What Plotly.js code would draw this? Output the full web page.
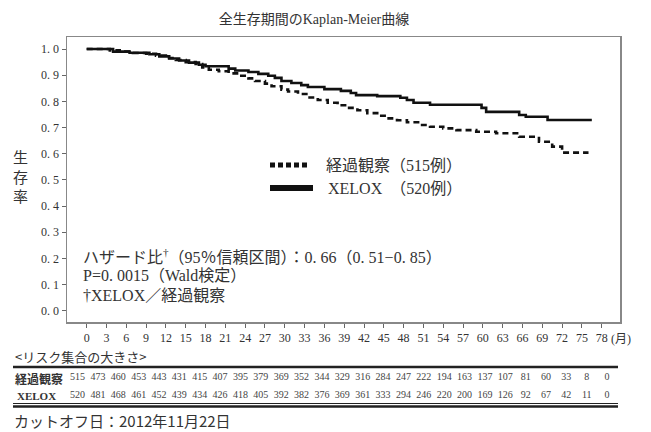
<!DOCTYPE html>
<html>
<head>
<meta charset="utf-8">
<script src="https://cdn.plot.ly/plotly-3.0.1.min.js"></script>
<style>html,body{margin:0;padding:0;background:#fff;}#chart{width:651px;height:432px;}</style>
</head>
<body>
<div id="chart"></div>
<script>
// ---- data ----
var obsName = '経過観察';
var xeloxName = 'XELOX';
var obsTime = [0,3.5,5,7,9,10.5,12,13.5,15,16.5,17.5,18.5,20,21.5,23,24.5,25.5,27,28,29.5,30.5,32,33.5,35,36.5,38,39.5,41,42.5,44,45.5,47,48.5,50.5,52,54,56,59,62,65.5,68.5,70.5,72,76];
var obsSurv = [1.0,0.995,0.99,0.985,0.982,0.975,0.966,0.958,0.95,0.943,0.93,0.921,0.915,0.907,0.898,0.888,0.878,0.868,0.858,0.845,0.838,0.828,0.815,0.805,0.795,0.785,0.775,0.766,0.755,0.745,0.735,0.728,0.72,0.71,0.703,0.697,0.69,0.684,0.678,0.665,0.646,0.627,0.604,0.604];
var xeloxTime = [0,4,6.5,9.5,11,12.5,14,15.5,17,18,21.5,22.5,24.5,26,27.5,28.5,29.5,31,32.5,33.5,36,38.5,40,40.8,44,47.5,48.5,49.5,52,59.8,60.5,65.5,66.5,69.8,76.5];
var xeloxSurv = [1.0,0.99,0.986,0.98,0.972,0.964,0.956,0.948,0.94,0.934,0.925,0.918,0.912,0.905,0.898,0.89,0.878,0.87,0.862,0.855,0.847,0.84,0.832,0.824,0.82,0.814,0.805,0.795,0.787,0.775,0.76,0.748,0.741,0.729,0.729];
var riskMonths = [0,3,6,9,12,15,18,21,24,27,30,33,36,39,42,45,48,51,54,57,60,63,66,69,72,75,78];
var obsRisk = [515,473,460,453,443,431,415,407,395,379,369,352,344,329,316,284,247,222,194,163,137,107,81,60,33,8,0];
var xeloxRisk = [520,481,468,461,452,439,434,426,418,405,392,382,376,369,361,333,294,246,220,200,169,126,92,67,42,11,0];
var yTickVals = [0,0.1,0.2,0.3,0.4,0.5,0.6,0.7,0.8,0.9,1.0];
var yTickText = ['0. 0','0. 1','0. 2','0. 3','0. 4','0. 5','0. 6','0. 7','0. 8','0. 9','1. 0'];
var obsN = 515, xeloxN = 520;

// ---- styling ----
var SERIF = 'Liberation Serif, "Noto Sans CJK JP", serif';
var SANS = '"Noto Sans CJK JP", sans-serif';
var TXT = '#333';
var H = 393;
function py(Y){ return (430 - Y) / H; }
function px(X){ return (X - 67) / 553; }

var traces = [
  {x: obsTime, y: obsSurv, type: 'scatter', mode: 'lines', line: {shape: 'hv', color: '#111', width: 2.6, dash: '6px,4px'}, hoverinfo: 'skip', showlegend: false},
  {x: xeloxTime, y: xeloxSurv, type: 'scatter', mode: 'lines', line: {shape: 'hv', color: '#111', width: 2.6}, hoverinfo: 'skip', showlegend: false},
  {x: riskMonths, y: riskMonths.map(function(){return obsName;}), text: obsRisk.map(String), type: 'scatter', mode: 'text', xaxis: 'x2', yaxis: 'y2', textfont: {family: SERIF, size: 10, color: '#444'}, cliponaxis: false, showlegend: false, hoverinfo: 'skip'},
  {x: riskMonths, y: riskMonths.map(function(){return xeloxName;}), text: xeloxRisk.map(String), type: 'scatter', mode: 'text', xaxis: 'x2', yaxis: 'y2', textfont: {family: SERIF, size: 10, color: '#444'}, cliponaxis: false, showlegend: false, hoverinfo: 'skip'}
];

var layout = {
  width: 651, height: 432,
  margin: {l: 67, r: 31, t: 37, b: 2},
  paper_bgcolor: '#fff', plot_bgcolor: '#fff',
  showlegend: false,
  title: {text: '全生存期間のKaplan-Meier曲線', x: 314/651, y: 1 - 19/432, xanchor: 'center', yanchor: 'middle', font: {family: SERIF, size: 14, color: TXT}},
  xaxis: {range: [-2.98, 80.77], tick0: 0, dtick: 3, ticks: 'outside', ticklen: 4, tickcolor: '#666', tickwidth: 1,
          showline: true, mirror: true, linecolor: '#888', linewidth: 1.5, showgrid: false, zeroline: false,
          tickfont: {family: SERIF, size: 12, color: TXT}, anchor: 'y', domain: [0, 1]},
  yaxis: {range: [-0.043, 1.046], tickmode: 'array', tickvals: yTickVals, ticktext: yTickText, ticks: 'outside', ticklen: 4, tickcolor: '#666',
          showline: true, mirror: true, linecolor: '#888', linewidth: 1.5, showgrid: false, zeroline: false,
          tickfont: {family: SERIF, size: 12, color: TXT}, domain: [py(322), 1]},
  xaxis2: {range: [-1.55, 79.9], visible: false, anchor: 'y2', domain: [0, 1]},
  yaxis2: {type: 'category', categoryarray: [xeloxName, obsName], range: [-1.889, 2.478], visible: false, domain: [0, 0.2], anchor: 'x2'},
  shapes: [
    {type: 'line', xref: 'paper', yref: 'paper', x0: px(270), x1: px(307), y0: py(165), y1: py(165), line: {color: '#111', width: 5, dash: '5px,3px'}},
    {type: 'line', xref: 'paper', yref: 'paper', x0: px(270), x1: px(313), y0: py(188), y1: py(188), line: {color: '#111', width: 6}},
    {type: 'line', xref: 'paper', yref: 'paper', x0: px(13), x1: px(618), y0: py(367), y1: py(367), line: {color: '#222', width: 2.5}},
    {type: 'line', xref: 'paper', yref: 'paper', x0: px(13), x1: px(618), y0: py(403.5), y1: py(403.5), line: {color: '#222', width: 1}},
    {type: 'line', xref: 'paper', yref: 'paper', x0: px(13), x1: px(618), y0: py(406.5), y1: py(406.5), line: {color: '#222', width: 2.5}}
  ],
  annotations: [
    {text: '生<br>存<br>率', xref: 'paper', yref: 'paper', x: px(20), y: py(176), xanchor: 'center', yanchor: 'middle', showarrow: false, font: {family: SANS, size: 15, color: TXT}},
    {text: '(月)', xref: 'paper', yref: 'paper', x: px(609), y: py(339), xanchor: 'left', yanchor: 'middle', showarrow: false, font: {family: SERIF, size: 12, color: TXT}},
    {text: obsName + '（' + obsN + '例）', xref: 'paper', yref: 'paper', x: px(324), y: py(165), xanchor: 'left', yanchor: 'middle', showarrow: false, font: {family: SERIF, size: 16, color: TXT}},
    {text: xeloxName + '　（' + xeloxN + '例）', xref: 'paper', yref: 'paper', x: px(326), y: py(188), xanchor: 'left', yanchor: 'middle', showarrow: false, font: {family: SERIF, size: 16, color: TXT}},
    {text: 'ハザード比<sup>†</sup>（95％信頼区間）：0. 66（0. 51−0. 85）', xref: 'paper', yref: 'paper', x: px(81), y: py(256), xanchor: 'left', yanchor: 'middle', showarrow: false, font: {family: SERIF, size: 16, color: TXT}},
    {text: 'P=0. 0015（Wald検定）', xref: 'paper', yref: 'paper', x: px(81), y: py(275), xanchor: 'left', yanchor: 'middle', showarrow: false, font: {family: SERIF, size: 16, color: TXT}},
    {text: '†XELOX／経過観察', xref: 'paper', yref: 'paper', x: px(81), y: py(295), xanchor: 'left', yanchor: 'middle', showarrow: false, font: {family: SERIF, size: 16, color: TXT}},
    {text: '<リスク集合の大きさ>', xref: 'paper', yref: 'paper', x: px(13), y: py(356), xanchor: 'left', yanchor: 'middle', showarrow: false, font: {family: SANS, size: 13, color: TXT}},
    {text: '<b>' + obsName + '</b>', xref: 'paper', yref: 'y2', x: px(13), y: 1, xanchor: 'left', yanchor: 'middle', showarrow: false, font: {family: SANS, size: 12, color: TXT}},
    {text: '<b>' + xeloxName + '</b>', xref: 'paper', yref: 'y2', x: px(15), y: 0, xanchor: 'left', yanchor: 'middle', showarrow: false, font: {family: SERIF, size: 11, color: TXT}},
    {text: 'カットオフ日：2012年11月22日', xref: 'paper', yref: 'paper', x: px(12), y: py(420), xanchor: 'left', yanchor: 'middle', showarrow: false, font: {family: SANS, size: 15, color: TXT}}
  ]
};

Plotly.newPlot('chart', traces, layout, {displayModeBar: false, staticPlot: true});
</script>
</body>
</html>
